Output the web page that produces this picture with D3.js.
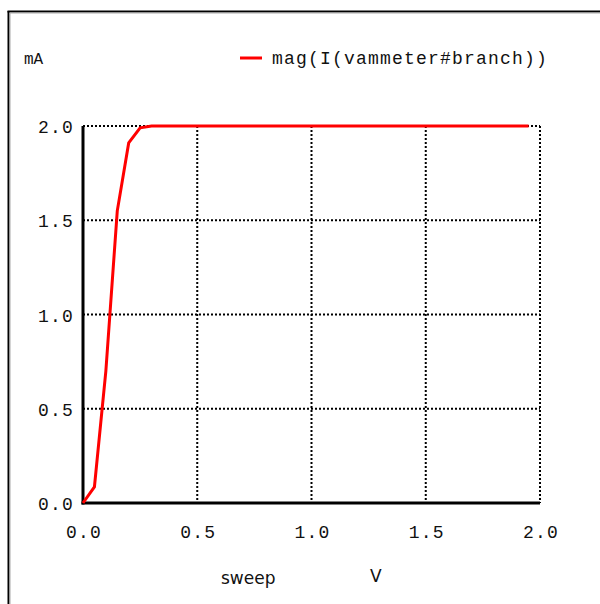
<!DOCTYPE html>
<html>
<head>
<meta charset="utf-8">
<script src="https://cdn.jsdelivr.net/npm/d3@7"></script>
<style>
  body { margin: 0; background: #fff; }
  svg text { font-family: "Liberation Mono", "DejaVu Sans Mono", monospace; fill: #111; }
</style>
</head>
<body>
<svg id="viz" width="600" height="604"></svg>
<script>
(function () {
  "use strict";

  // sweep voltage (V) and current magnitude (mA)
  const sweep = [0, 0.05, 0.1, 0.15, 0.2, 0.25, 0.3, 0.5, 1.0, 1.5, 1.95];
  const current = [0, 0.085, 0.7, 1.55, 1.91, 1.99, 2.0, 2.0, 2.0, 2.0, 2.0];

  const xTicks = [0, 0.5, 1.0, 1.5, 2.0];
  const yTicks = [0, 0.5, 1.0, 1.5, 2.0];

  const seriesName = "mag(I(vammeter#branch))";
  const yUnit = "mA";
  const xName = "sweep";
  const xUnit = "V";

  /*
  | Layout
  */
  let margin = { top: 126, left: 83, right: 60, bottom: 101 };
  let width = 600 - margin.left - margin.right;
  let height = 604 - margin.top - margin.bottom;

  let svg = d3.select("#viz");

  // frame round the whole picture (left and top edge only show)
  svg.append("line").attr("x1", 8.5).attr("y1", 11).attr("x2", 8.5).attr("y2", 604)
    .attr("stroke", "#000").attr("stroke-width", 2);
  svg.append("line").attr("x1", 7.5).attr("y1", 11.5).attr("x2", 600).attr("y2", 11.5)
    .attr("stroke", "#000").attr("stroke-width", 2);
  svg.append("line").attr("x1", 10).attr("y1", 13).attr("x2", 10).attr("y2", 604)
    .attr("stroke", "#aaa").attr("stroke-width", 1);
  svg.append("line").attr("x1", 9.5).attr("y1", 13).attr("x2", 600).attr("y2", 13)
    .attr("stroke", "#aaa").attr("stroke-width", 1);

  let x = d3.scaleLinear().domain([0, 2]).range([0, width]);
  let y = d3.scaleLinear().domain([0, 2]).range([height, 0]);

  let g = svg.append("g")
    .attr("transform", `translate(${margin.left} ${margin.top})`);

  // dotted grid
  g.selectAll(".vgrid")
    .data(xTicks.filter(d => d > 0))
    .enter().append("line")
    .attr("x1", d => x(d)).attr("x2", d => x(d))
    .attr("y1", 0).attr("y2", height)
    .attr("stroke", "#000").attr("stroke-width", 2)
    .attr("stroke-dasharray", "2,2");

  g.selectAll(".hgrid")
    .data(yTicks.filter(d => d > 0))
    .enter().append("line")
    .attr("y1", d => y(d)).attr("y2", d => y(d))
    .attr("x1", 0).attr("x2", width)
    .attr("stroke", "#000").attr("stroke-width", 2)
    .attr("stroke-dasharray", "2,2");

  // solid axes
  g.append("line").attr("x1", 0).attr("x2", 0).attr("y1", y(2)).attr("y2", height + 1.5)
    .attr("stroke", "#000").attr("stroke-width", 3);
  g.append("line").attr("x1", -1.5).attr("x2", width).attr("y1", height).attr("y2", height)
    .attr("stroke", "#000").attr("stroke-width", 3);

  // tick labels
  g.selectAll(".xlab")
    .data(xTicks)
    .enter().append("text")
    .attr("x", d => x(d) + 1)
    .attr("y", height + 35)
    .attr("text-anchor", "middle")
    .style("font-size", "18px")
    .style("letter-spacing", "1.2px")
    .text(d => d.toFixed(1));

  g.selectAll(".ylab")
    .data(yTicks)
    .enter().append("text")
    .attr("x", -9)
    .attr("y", d => y(d) + 7)
    .attr("text-anchor", "end")
    .style("font-size", "18px")
    .style("letter-spacing", "1.2px")
    .text(d => d.toFixed(1));

  // the curve
  let line = d3.line()
    .x((d, i) => x(sweep[i]))
    .y(d => y(d));

  g.append("path")
    .datum(current)
    .attr("d", line)
    .attr("fill", "none")
    .attr("stroke", "#ff0000")
    .attr("stroke-width", 3);

  // unit & legend
  svg.append("text")
    .attr("x", 24).attr("y", 64)
    .style("font-size", "16px")
    .text(yUnit);

  svg.append("line")
    .attr("x1", 240).attr("x2", 262)
    .attr("y1", 58).attr("y2", 58)
    .attr("stroke", "#ff0000").attr("stroke-width", 3);

  svg.append("text")
    .attr("x", 272).attr("y", 64)
    .style("font-size", "18px")
    .style("letter-spacing", "1.2px")
    .text(seriesName);

  // x axis title
  svg.append("text")
    .attr("x", 221).attr("y", 584)
    .style("font-family", "'DejaVu Sans', sans-serif")
    .style("font-size", "17px")
    .text(xName);

  svg.append("text")
    .attr("x", 370).attr("y", 582)
    .style("font-family", "'DejaVu Sans', sans-serif")
    .style("font-size", "17px")
    .text(xUnit);
})();
</script>
</body>
</html>
